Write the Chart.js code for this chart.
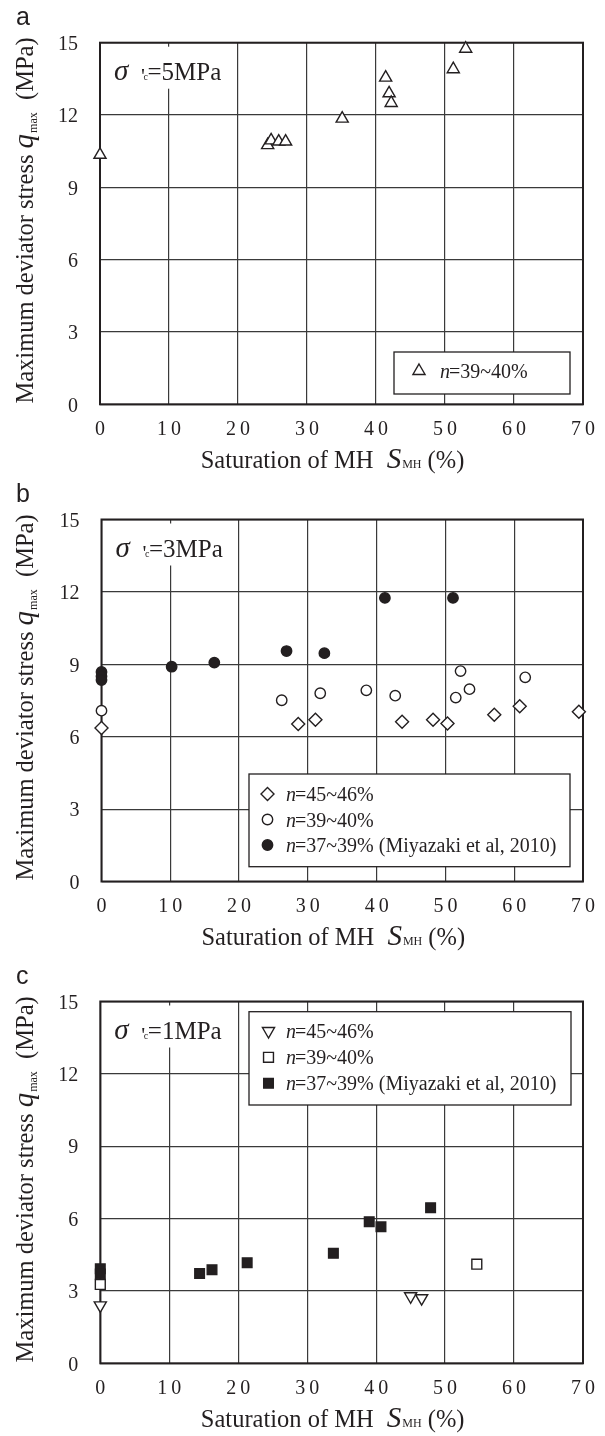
<!DOCTYPE html>
<html>
<head>
<meta charset="utf-8">
<script src="https://cdn.jsdelivr.net/npm/chart.js@4.4.1/dist/chart.umd.min.js"></script>
<style>
  body { margin: 0; background: #fff; width: 605px; height: 1436px; position: relative; overflow: hidden; }
  .panel { position: absolute; left: 0; width: 605px; }
</style>
</head>
<body>
<div class="panel" style="top:0;height:478px"><canvas id="chartA"></canvas></div>
<div class="panel" style="top:478px;height:480px"><canvas id="chartB"></canvas></div>
<div class="panel" style="top:958px;height:478px"><canvas id="chartC"></canvas></div>
<script>
// axis ticks
const xTicks = [0, 10, 20, 30, 40, 50, 60, 70];
const yTicks = [0, 3, 6, 9, 12, 15];

// series labels
const label4546 = "n=45~46%";
const label3940 = "n=39~40%";
const label3739 = "n=37~39% (Miyazaki et al, 2010)";

// (a) confining stress 5 MPa
const aStress = "5MPa";
const aTriX = [0, 24.3, 24.8, 25.9, 26.9, 35.1, 41.4, 41.9, 42.2, 51.2, 53.0];
const aTriY = [10.35, 10.75, 10.95, 10.9, 10.9, 11.85, 13.55, 12.9, 12.5, 13.9, 14.75];

// (b) confining stress 3 MPa
const bStress = "3MPa";
const bDiaX = [0, 28.6, 31.1, 43.7, 48.2, 50.3, 57.1, 60.8, 69.4];
const bDiaY = [6.36, 6.53, 6.7, 6.62, 6.7, 6.55, 6.91, 7.26, 7.03];
const bCirX = [0, 26.2, 31.8, 38.5, 42.7, 51.5, 52.2, 53.5, 61.6];
const bCirY = [7.08, 7.51, 7.8, 7.92, 7.7, 7.62, 8.72, 7.97, 8.46];
const bDotX = [0, 0, 0, 10.2, 16.4, 26.9, 32.4, 41.2, 51.1];
const bDotY = [8.68, 8.5, 8.35, 8.9, 9.07, 9.55, 9.46, 11.75, 11.75];

// (c) confining stress 1 MPa
const cStress = "1MPa";
const cTriX = [0, 45.0, 46.6];
const cTriY = [2.4, 2.78, 2.7];
const cSqX = [0, 54.6];
const cSqY = [3.27, 4.11];
const cBlkX = [0, 0, 14.4, 16.2, 21.3, 33.8, 39.0, 40.7, 47.9];
const cBlkY = [3.92, 3.7, 3.72, 3.88, 4.17, 4.56, 5.87, 5.66, 6.45];

const INK = "#231f20";
const GRID = "#3a3a3a";
const SERIF = '"Liberation Serif", "DejaVu Serif", serif';
const SANS = '"Liberation Sans", Arial, sans-serif';

const pts = (xs, ys) => xs.map((x, i) => ({ x: x, y: ys[i] }));

function series(label, xs, ys, style, radius, filled, rotation) {
  return {
    label: label,
    data: pts(xs, ys),
    pointStyle: style,
    pointRadius: radius,
    pointRotation: rotation || 0,
    pointBackgroundColor: filled ? INK : "#fff",
    pointBorderColor: INK,
    pointBorderWidth: 1.4,
    showLine: false,
    clip: false
  };
}

function drawMarker(ctx, ds, x, y) {
  const r = ds.pointRadius;
  ctx.save();
  ctx.translate(x, y);
  ctx.rotate((ds.pointRotation || 0) * Math.PI / 180);
  ctx.beginPath();
  if (ds.pointStyle === "triangle") {
    ctx.moveTo(0, -r); ctx.lineTo(r * 0.866, r / 2); ctx.lineTo(-r * 0.866, r / 2); ctx.closePath();
  } else if (ds.pointStyle === "rectRot") {
    ctx.moveTo(0, -r); ctx.lineTo(r, 0); ctx.lineTo(0, r); ctx.lineTo(-r, 0); ctx.closePath();
  } else if (ds.pointStyle === "rect") {
    const s = r * Math.SQRT1_2;
    ctx.rect(-s, -s, 2 * s, 2 * s);
  } else {
    ctx.arc(0, 0, r, 0, Math.PI * 2);
  }
  ctx.fillStyle = ds.pointBackgroundColor;
  ctx.fill();
  ctx.lineWidth = ds.pointBorderWidth;
  ctx.strokeStyle = ds.pointBorderColor;
  ctx.stroke();
  ctx.restore();
}

// draws text pieces in a row centred on cx; pieces = [{t, font, dy, gap}]
function drawPieces(ctx, pieces, cx, baseY) {
  let total = 0;
  pieces.forEach(p => { ctx.font = p.font; p.w = ctx.measureText(p.t).width; total += p.w + (p.gap || 0); });
  let x = cx - total / 2;
  pieces.forEach(p => {
    ctx.font = p.font;
    ctx.fillText(p.t, x, baseY + (p.dy || 0));
    x += p.w + (p.gap || 0);
  });
}

function panelDecor(p) {
  return {
    id: "panelDecor",
    beforeDatasetsDraw(chart) {
      const ctx = chart.ctx, a = chart.chartArea;
      ctx.save();
      // white box behind the stress label
      ctx.fillStyle = "#fff";
      ctx.fillRect(a.left + 4, a.top + 4, 128, 42);
      // legend box
      const lg = p.legend;
      ctx.fillRect(lg.x, lg.y, lg.w, lg.h);
      ctx.lineWidth = 1.3;
      ctx.strokeStyle = INK;
      ctx.strokeRect(lg.x, lg.y, lg.w, lg.h);
      // frame
      ctx.lineWidth = 2;
      ctx.strokeRect(a.left, a.top, a.right - a.left, a.bottom - a.top);

      // stress label  σ'c=xMPa
      ctx.fillStyle = INK;
      ctx.textAlign = "left";
      ctx.textBaseline = "alphabetic";
      const bx = a.left, by = a.top + 37.5;
      ctx.font = "italic 29px " + SERIF;
      ctx.fillText("σ", bx + 14, by);
      ctx.font = "22px " + SERIF;
      ctx.fillText("'", bx + 41, by + 3);
      ctx.font = "10px " + SERIF;
      ctx.fillText("c", bx + 43.5, by);
      ctx.font = "25px " + SERIF;
      ctx.fillText("=" + p.stress, bx + 47.5, by);

      // legend entries
      chart.data.datasets.forEach((ds, i) => {
        const ry = lg.rows[i];
        drawMarker(ctx, ds, lg.markerX, ry);
        ctx.fillStyle = INK;
        ctx.font = "italic 20px " + SERIF;
        ctx.fillText(ds.label.charAt(0), lg.textX, ry + 7);
        const w = ctx.measureText(ds.label.charAt(0)).width;
        ctx.font = "20px " + SERIF;
        ctx.fillText(ds.label.slice(1), lg.textX + w - 1, ry + 7);
      });
      ctx.restore();
    },
    afterDraw(chart) {
      const ctx = chart.ctx, a = chart.chartArea, xs = chart.scales.x;
      ctx.save();
      ctx.fillStyle = INK;
      // x tick labels (spaced digits)
      ctx.font = "20px " + SERIF;
      ctx.textAlign = "center";
      ctx.textBaseline = "middle";
      if ("letterSpacing" in ctx) ctx.letterSpacing = "4px";
      xs.ticks.forEach(t => {
        ctx.fillText(String(t.value), xs.getPixelForValue(t.value) + 2, a.bottom + 25);
      });
      if ("letterSpacing" in ctx) ctx.letterSpacing = "0px";

      ctx.textAlign = "left";
      ctx.textBaseline = "alphabetic";
      // x axis title
      drawPieces(ctx, [
        { t: "Saturation of MH ", font: "24.5px " + SERIF, gap: 7 },
        { t: "S", font: "italic 29px " + SERIF, gap: 1 },
        { t: "MH", font: "12px " + SERIF },
        { t: " (%)", font: "24.5px " + SERIF }
      ], (a.left + a.right) / 2 - 9, a.bottom + 63.5);

      // y axis title (rotated)
      ctx.translate(33, (a.top + a.bottom) / 2 - 3);
      ctx.rotate(-Math.PI / 2);
      drawPieces(ctx, [
        { t: "Maximum deviator stress ", font: "24.5px " + SERIF },
        { t: "q", font: "italic 29px " + SERIF, gap: 1 },
        { t: "max", font: "12px " + SERIF, dy: 4 },
        { t: "  (MPa)", font: "24.5px " + SERIF }
      ], 0, 0);
      ctx.restore();

      // panel letter
      ctx.save();
      ctx.fillStyle = INK;
      ctx.font = "25px " + SANS;
      ctx.textAlign = "left";
      ctx.textBaseline = "alphabetic";
      ctx.fillText(p.letter, 16, a.top - 18);
      ctx.restore();
    }
  };
}

const panels = [
  {
    id: "chartA", letter: "a", stress: aStress, height: 478,
    area: { left: 100, right: 583, top: 42.7, bottom: 404.3 },
    legend: { x: 394, y: 352, w: 176, h: 42, markerX: 419, textX: 440, rows: [371] },
    datasets: [series(label3940, aTriX, aTriY, "triangle", 7, false)]
  },
  {
    id: "chartB", letter: "b", stress: bStress, height: 480,
    area: { left: 101.5, right: 583, top: 41.5, bottom: 403.5 },
    legend: { x: 249, y: 296, w: 321, h: 92.7, markerX: 267.5, textX: 286, rows: [316, 341.5, 367] },
    datasets: [
      series(label4546, bDiaX, bDiaY, "rectRot", 6.5, false),
      series(label3940, bCirX, bCirY, "circle", 5.2, false),
      series(label3739, bDotX, bDotY, "circle", 5.2, true)
    ]
  },
  {
    id: "chartC", letter: "c", stress: cStress, height: 478,
    area: { left: 100.3, right: 583, top: 43.5, bottom: 405.3 },
    legend: { x: 249, y: 53.7, w: 322, h: 93.3, markerX: 268.5, textX: 286, rows: [73, 99.3, 125.3] },
    datasets: [
      series(label4546, cTriX, cTriY, "triangle", 7, false, 180),
      series(label3940, cSqX, cSqY, "rect", 7, false),
      series(label3739, cBlkX, cBlkY, "rect", 6.8, true)
    ]
  }
];

panels.forEach(p => {
  new Chart(document.getElementById(p.id), {
    type: "scatter",
    data: { datasets: p.datasets },
    options: {
      responsive: true,
      maintainAspectRatio: false,
      animation: false,
      events: [],
      layout: { padding: { top: p.area.top, right: 605 - p.area.right, left: 0, bottom: 0 } },
      plugins: { legend: { display: false }, tooltip: { enabled: false } },
      scales: {
        x: {
          type: "linear",
          min: xTicks[0],
          max: xTicks[xTicks.length - 1],
          ticks: { stepSize: xTicks[1] - xTicks[0], display: false },
          grid: { color: GRID, lineWidth: 1.2, drawTicks: false },
          border: { display: false },
          afterFit: s => { s.height = p.height - p.area.bottom; }
        },
        y: {
          type: "linear",
          min: yTicks[0],
          max: yTicks[yTicks.length - 1],
          ticks: {
            stepSize: yTicks[1] - yTicks[0],
            color: INK,
            font: { family: SERIF, size: 20 },
            padding: 22,
            labelOffset: 2
          },
          grid: { color: GRID, lineWidth: 1.2, drawTicks: false },
          border: { display: false },
          afterFit: s => { s.width = p.area.left; }
        }
      }
    },
    plugins: [panelDecor(p)]
  });
});
</script>
</body>
</html>
